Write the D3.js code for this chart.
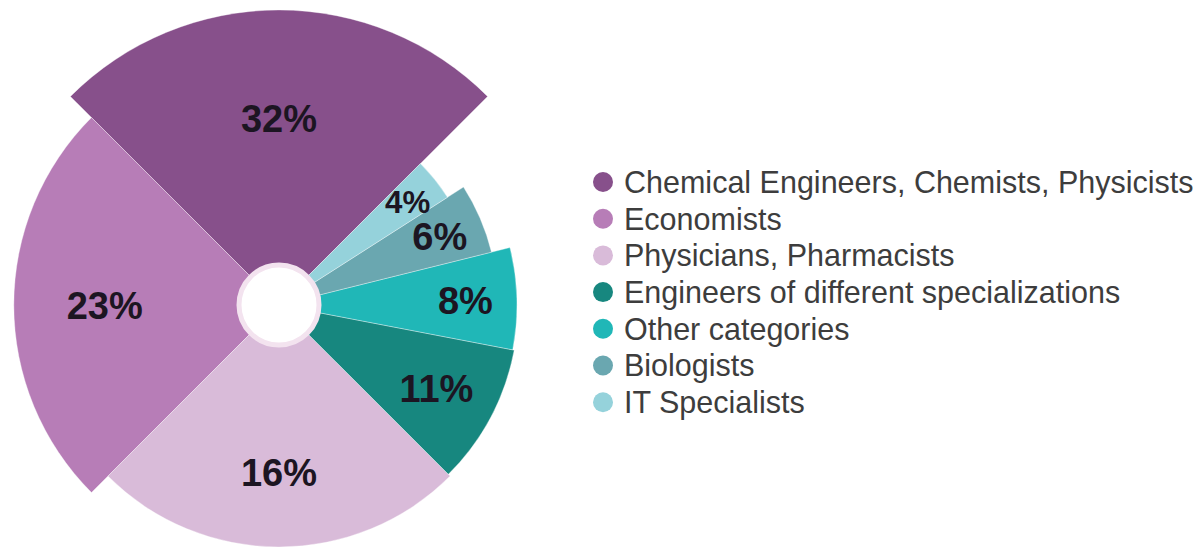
<!DOCTYPE html>
<html>
<head>
<meta charset="utf-8">
<script src="https://cdn.jsdelivr.net/npm/d3@7"></script>
<style>
  html, body { margin: 0; padding: 0; background: #fff; }
</style>
</head>
<body>
<div class="root"></div>
<script>
// Chart data
const categories = [
  "Chemical Engineers, Chemists, Physicists",
  "Economists",
  "Physicians, Pharmacists",
  "Engineers of different specializations",
  "Other categories",
  "Biologists",
  "IT Specialists"
];
const shares = [32, 23, 16, 11, 8, 6, 4];
const colors = ["#87508b", "#b77db7", "#d9bbd9", "#17877f", "#20b7b7", "#6aa7b0", "#95d2db"];

var width = 1200, height = 547;
var cx = 279, cy = 305;
var holeR = 40;

var svg = d3.select(".root").append("svg")
    .attr("width", width)
    .attr("height", height);

var data = shares.map((v, i) => ({ name: categories[i], value: v, color: colors[i] }));

// big slices get a quarter each, the small ones share the last quarter
var smallSum = d3.sum(shares.filter(v => v < 16));
var pie = d3.pie()
    .sort(null)
    .value(d => d.value >= 16 ? smallSum : d.value)
    .startAngle(Math.PI / 4)
    .endAngle(Math.PI / 4 - 2 * Math.PI);

// outer radius grows with the share
var rScale = d3.scaleLinear()
    .domain([4, 8, 16, 32])
    .range([200, 238, 242, 295]);

var arc = d3.arc()
    .innerRadius(0)
    .outerRadius(d => rScale(d.data.value));

// label sits a bit inside the outer edge
function labelPos(d) {
    var r = rScale(d.data.value) - 20 * Math.sqrt(d.data.value) + 5;
    return d3.arc().innerRadius(r).outerRadius(r).centroid(d);
}

var g = svg.append("g")
    .attr("transform", "translate(" + cx + "," + cy + ")");

var arcs = pie(data);

g.selectAll("path.slice")
    .data(arcs)
    .join("path")
    .attr("class", "slice")
    .attr("d", arc)
    .attr("fill", d => d.data.color)
    .attr("stroke", "#ffffff")
    .attr("stroke-opacity", 0.35)
    .attr("stroke-width", 1);

// hole in the middle
g.append("circle")
    .attr("r", holeR)
    .attr("fill", "#ffffff")
    .attr("stroke", "#f3e3ef")
    .attr("stroke-width", 5);

// percent labels
g.selectAll("text.pct")
    .data(arcs)
    .join("text")
    .attr("class", "pct")
    .attr("transform", d => "translate(" + labelPos(d) + ")")
    .attr("text-anchor", "middle")
    .attr("dy", "0.36em")
    .attr("font-family", "Liberation Sans, Arial, sans-serif")
    .attr("font-weight", 700)
    .attr("font-size", d => Math.min(38, Math.abs(d.endAngle - d.startAngle) * 176 * 0.82))
    .attr("fill", "#1c1522")
    .text(d => d.data.value + "%");

// legend
var legend = svg.append("g")
    .attr("transform", "translate(603,182)");

var rows = legend.selectAll("g")
    .data(data)
    .join("g")
    .attr("transform", (d, i) => "translate(0," + (i * 36.7) + ")");

rows.append("circle")
    .attr("r", 10)
    .attr("fill", d => d.color);

rows.append("text")
    .attr("x", 21)
    .attr("dy", "0.36em")
    .attr("font-family", "Liberation Sans, Arial, sans-serif")
    .attr("font-size", 30.5)
    .attr("fill", "#3d3d3d")
    .text(d => d.name);
</script>
</body>
</html>
